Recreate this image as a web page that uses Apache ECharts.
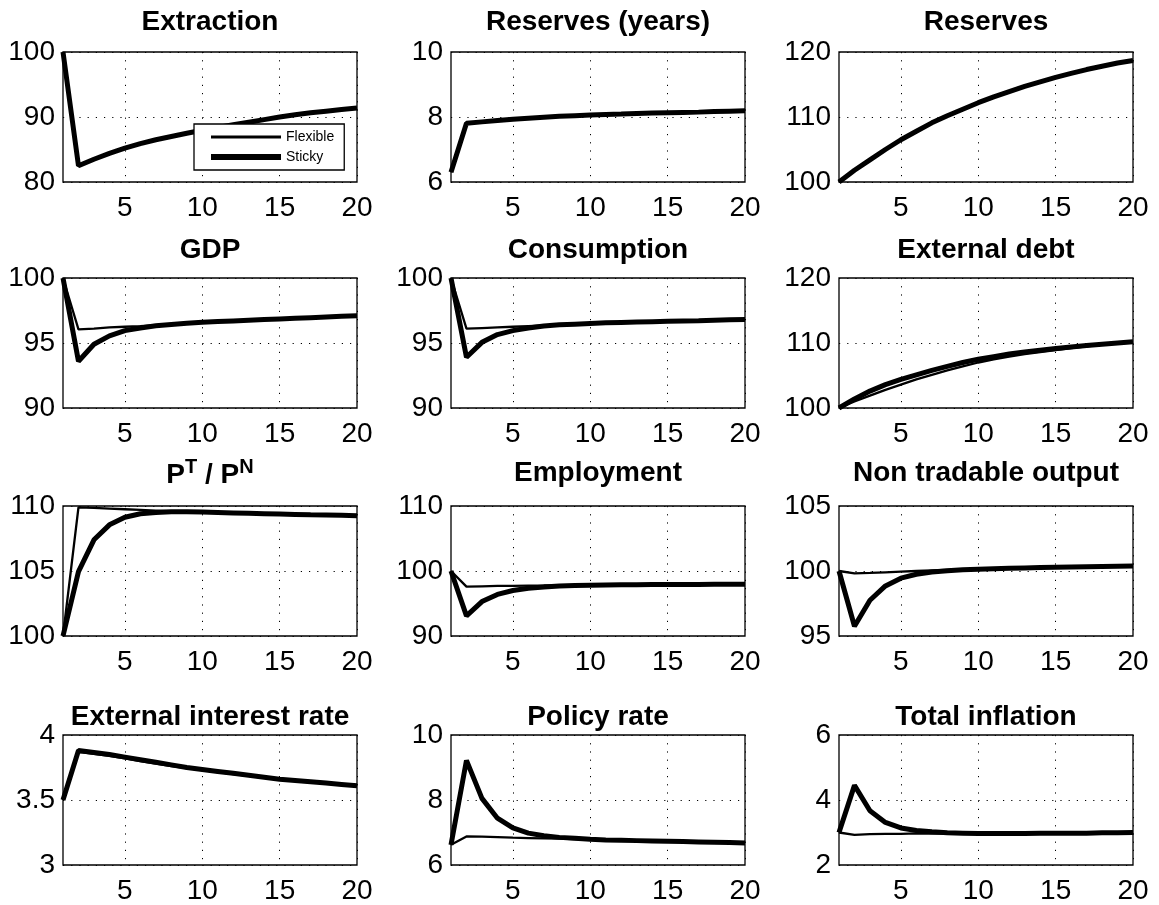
<!DOCTYPE html>
<html>
<head>
<meta charset="utf-8">
<script src="https://cdn.jsdelivr.net/npm/echarts@6/dist/echarts.min.js"></script>
<style>
html,body{margin:0;padding:0;background:#fff;}
#chart{width:1159px;height:905px;}
</style>
</head>
<body>
<div id="chart"></div>
<script>
// ---------------- data ----------------
const periods = ['1','2','3','4','5','6','7','8','9','10','11','12','13','14','15','16','17','18','19','20'];

const titles = ['Extraction','Reserves (years)','Reserves','GDP','Consumption','External debt',
  'P^T / P^N','Employment','Non tradable output','External interest rate','Policy rate','Total inflation'];

const yMin  = [80, 6, 100, 90, 90, 100, 100, 90, 95, 3, 6, 2];
const yMax  = [100, 10, 120, 100, 100, 120, 110, 110, 105, 4, 10, 6];
const yStep = [10, 2, 10, 5, 5, 10, 5, 10, 5, 0.5, 2, 2];

const extractionFlex   = [100, 82.5, 83.5, 84.4, 85.2, 85.9, 86.5, 87.0, 87.5, 87.95, 88.4, 88.8, 89.2, 89.6, 90.0, 90.35, 90.65, 90.9, 91.15, 91.4];
const extractionSticky = [100, 82.5, 83.5, 84.4, 85.2, 85.9, 86.5, 87.0, 87.5, 87.95, 88.4, 88.8, 89.2, 89.6, 90.0, 90.35, 90.65, 90.9, 91.15, 91.4];

const resYearsFlex   = [6.3, 7.81, 7.85, 7.89, 7.93, 7.96, 7.99, 8.02, 8.04, 8.06, 8.08, 8.09, 8.11, 8.12, 8.13, 8.14, 8.15, 8.17, 8.18, 8.19];
const resYearsSticky = [6.3, 7.81, 7.85, 7.89, 7.93, 7.96, 7.99, 8.02, 8.04, 8.06, 8.08, 8.09, 8.11, 8.12, 8.13, 8.14, 8.15, 8.17, 8.18, 8.19];

const reservesFlex   = [100, 101.8, 103.4, 105.0, 106.5, 107.8, 109.1, 110.2, 111.2, 112.2, 113.1, 113.9, 114.7, 115.4, 116.1, 116.7, 117.3, 117.8, 118.3, 118.7];
const reservesSticky = [100, 101.8, 103.4, 105.0, 106.5, 107.8, 109.1, 110.2, 111.2, 112.2, 113.1, 113.9, 114.7, 115.4, 116.1, 116.7, 117.3, 117.8, 118.3, 118.7];

const gdpFlex   = [100, 96.05, 96.1, 96.2, 96.25, 96.3, 96.38, 96.45, 96.52, 96.6, 96.65, 96.7, 96.75, 96.8, 96.85, 96.9, 96.95, 97.0, 97.05, 97.1];
const gdpSticky = [100, 93.6, 94.9, 95.55, 95.95, 96.15, 96.32, 96.43, 96.52, 96.6, 96.65, 96.7, 96.75, 96.8, 96.85, 96.9, 96.95, 97.0, 97.05, 97.1];

const consFlex   = [100, 96.1, 96.15, 96.2, 96.25, 96.3, 96.35, 96.4, 96.45, 96.5, 96.55, 96.58, 96.61, 96.64, 96.67, 96.7, 96.72, 96.75, 96.78, 96.8];
const consSticky = [100, 93.9, 95.05, 95.65, 95.95, 96.15, 96.3, 96.4, 96.45, 96.5, 96.55, 96.58, 96.61, 96.64, 96.67, 96.7, 96.72, 96.75, 96.78, 96.8];

const debtFlex   = [100, 101.0, 101.9, 102.8, 103.6, 104.4, 105.1, 105.8, 106.4, 107.0, 107.5, 107.9, 108.3, 108.6, 108.9, 109.2, 109.5, 109.75, 109.95, 110.15];
const debtSticky = [100, 101.4, 102.6, 103.6, 104.4, 105.1, 105.8, 106.4, 107.0, 107.5, 107.9, 108.3, 108.6, 108.9, 109.15, 109.4, 109.6, 109.8, 110.0, 110.2];

const relPriceFlex   = [100, 109.9, 109.85, 109.8, 109.75, 109.7, 109.65, 109.6, 109.58, 109.55, 109.52, 109.5, 109.47, 109.44, 109.41, 109.38, 109.35, 109.32, 109.3, 109.28];
const relPriceSticky = [100, 104.95, 107.4, 108.55, 109.13, 109.4, 109.5, 109.55, 109.55, 109.53, 109.5, 109.47, 109.44, 109.41, 109.38, 109.35, 109.32, 109.3, 109.28, 109.25];

const emplFlex   = [100, 97.6, 97.65, 97.7, 97.72, 97.75, 97.77, 97.8, 97.82, 97.84, 97.86, 97.88, 97.9, 97.91, 97.92, 97.93, 97.94, 97.95, 97.96, 97.97];
const emplSticky = [100, 93.1, 95.3, 96.4, 97.0, 97.35, 97.55, 97.68, 97.76, 97.82, 97.86, 97.88, 97.9, 97.91, 97.92, 97.93, 97.94, 97.95, 97.96, 97.97];

const ntOutFlex   = [100, 99.82, 99.85, 99.9, 99.95, 100.0, 100.04, 100.08, 100.12, 100.15, 100.18, 100.21, 100.24, 100.26, 100.28, 100.3, 100.32, 100.34, 100.36, 100.38];
const ntOutSticky = [100, 95.75, 97.75, 98.85, 99.45, 99.75, 99.92, 100.02, 100.1, 100.14, 100.18, 100.21, 100.24, 100.26, 100.28, 100.3, 100.32, 100.34, 100.36, 100.38];

const extRateFlex   = [3.5, 3.87, 3.855, 3.84, 3.82, 3.80, 3.78, 3.76, 3.745, 3.73, 3.715, 3.70, 3.685, 3.67, 3.66, 3.65, 3.64, 3.63, 3.62, 3.61];
const extRateSticky = [3.5, 3.88, 3.865, 3.85, 3.83, 3.81, 3.79, 3.77, 3.75, 3.735, 3.72, 3.705, 3.69, 3.675, 3.66, 3.65, 3.64, 3.63, 3.62, 3.61];

const policyFlex   = [6.62, 6.88, 6.87, 6.86, 6.84, 6.83, 6.82, 6.81, 6.80, 6.78, 6.77, 6.76, 6.75, 6.74, 6.73, 6.72, 6.71, 6.70, 6.69, 6.68];
const policySticky = [6.62, 9.22, 8.05, 7.44, 7.14, 6.98, 6.90, 6.85, 6.82, 6.79, 6.77, 6.76, 6.75, 6.74, 6.73, 6.72, 6.71, 6.70, 6.69, 6.68];

const inflFlex   = [3.0, 2.93, 2.95, 2.96, 2.96, 2.97, 2.97, 2.97, 2.97, 2.97, 2.97, 2.97, 2.97, 2.98, 2.98, 2.98, 2.98, 2.99, 2.99, 3.0];
const inflSticky = [3.0, 4.45, 3.67, 3.31, 3.14, 3.06, 3.02, 2.99, 2.98, 2.97, 2.97, 2.97, 2.97, 2.98, 2.98, 2.98, 2.98, 2.99, 2.99, 3.0];

const flexSeries   = [extractionFlex, resYearsFlex, reservesFlex, gdpFlex, consFlex, debtFlex, relPriceFlex, emplFlex, ntOutFlex, extRateFlex, policyFlex, inflFlex];
const stickySeries = [extractionSticky, resYearsSticky, reservesSticky, gdpSticky, consSticky, debtSticky, relPriceSticky, emplSticky, ntOutSticky, extRateSticky, policySticky, inflSticky];

// ---------------- layout ----------------
const FONT = 'Liberation Sans, Arial, Helvetica, sans-serif';
const colLeft = [63, 451, 839];
const panelW = 294;
const rowTop = [52, 278, 506, 735];
const panelH = 130;
const titleCenterY = [22, 250, 473, 717];
const thinW = 2.3, thickW = 5;

const grids = [], xAxes = [], yAxes = [], series = [], titleOpts = [];
for (let i = 0; i < 12; i++) {
  const r = Math.floor(i / 3), c = i % 3;
  grids.push({
    left: colLeft[c], top: rowTop[r], width: panelW, height: panelH,
    show: true, borderColor: '#000', borderWidth: 1.3, backgroundColor: 'transparent'
  });
  xAxes.push({
    type: 'category', gridIndex: i, data: periods, boundaryGap: false,
    axisLine: { show: false }, axisTick: { show: false },
    axisLabel: {
      interval: (idx) => (idx + 1) % 5 === 0,
      fontFamily: FONT, fontSize: 28, color: '#000', margin: 12
    },
    splitLine: {
      show: true, interval: (idx) => (idx + 1) % 5 === 0,
      lineStyle: { color: '#000', width: 1, type: [1.2, 7] }
    }
  });
  yAxes.push({
    type: 'value', gridIndex: i, min: yMin[i], max: yMax[i], interval: yStep[i],
    axisLine: { show: false }, axisTick: { show: false },
    axisLabel: { fontFamily: FONT, fontSize: 28, color: '#000', margin: 8 },
    splitLine: { show: true, lineStyle: { color: '#000', width: 1, type: [1.2, 7] } }
  });
  series.push({
    name: 'Flexible', type: 'line', xAxisIndex: i, yAxisIndex: i, data: flexSeries[i],
    symbol: 'none', lineStyle: { color: '#000', width: thinW }, itemStyle: { color: '#000' },
    silent: true, animation: false, z: 3
  });
  series.push({
    name: 'Sticky', type: 'line', xAxisIndex: i, yAxisIndex: i, data: stickySeries[i],
    symbol: 'none', lineStyle: { color: '#000', width: thickW }, itemStyle: { color: '#000' },
    silent: true, animation: false, z: 2
  });
  const cx = colLeft[c] + panelW / 2;
  if (titles[i] === 'P^T / P^N') {
    titleOpts.push({
      text: '{a|P}{s|T}{a| / P}{s|N}',
      left: cx, top: titleCenterY[r] - 16, textAlign: 'center', padding: 0,
      textStyle: {
        rich: {
          a: { fontFamily: FONT, fontSize: 28, fontWeight: 'bold', color: '#000', lineHeight: 32, verticalAlign: 'bottom' },
          s: { fontFamily: FONT, fontSize: 20, fontWeight: 'bold', color: '#000', lineHeight: 20, verticalAlign: 'top' }
        }
      }
    });
  } else {
    titleOpts.push({
      text: titles[i], left: cx, top: titleCenterY[r] - 14, textAlign: 'center', padding: 0,
      textStyle: { fontFamily: FONT, fontSize: 28, fontWeight: 'bold', color: '#000' }
    });
  }
}

const chart = echarts.init(document.getElementById('chart'), null, { renderer: 'canvas' });
chart.setOption({
  backgroundColor: '#fff',
  animation: false,
  title: titleOpts,
  legend: {
    data: [
      { name: 'Flexible', lineStyle: { width: 3, color: '#000' } },
      { name: 'Sticky', lineStyle: { width: 6, color: '#000' } }
    ],
    orient: 'vertical', left: 194, top: 124,
    itemWidth: 70, itemHeight: 14, itemGap: 6,
    padding: [6, 10, 6, 14],
    backgroundColor: '#fff', borderColor: '#000', borderWidth: 1.3,
    itemStyle: { color: 'rgba(0,0,0,0)', borderWidth: 0, opacity: 0 },
    textStyle: { fontFamily: FONT, fontSize: 14, color: '#000' },
    selectedMode: false, z: 10
  },
  grid: grids, xAxis: xAxes, yAxis: yAxes, series: series
});
</script>
</body>
</html>
